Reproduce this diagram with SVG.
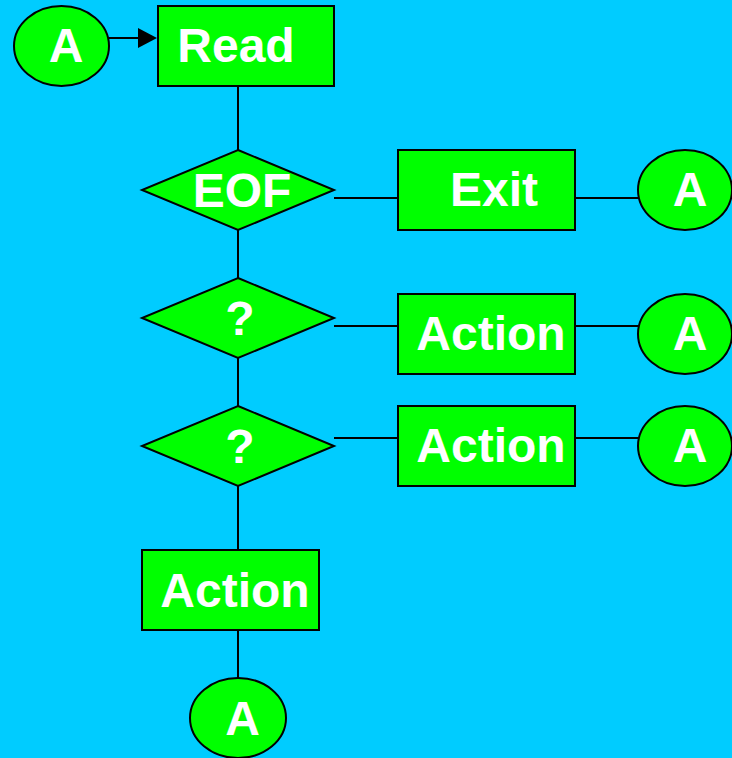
<svg xmlns="http://www.w3.org/2000/svg" width="732" height="758" viewBox="0 0 732 758">
<defs>
<style>
.s{fill:#00FF00;stroke:#000;stroke-width:2}
.t{fill:#fff;font-family:"Liberation Sans",Arial,sans-serif;font-weight:bold;font-size:48px;text-anchor:middle}
.c{stroke:#000;stroke-width:2;fill:none}
</style>
</defs>
<rect width="732" height="758" fill="#00CCFF"/>
<g id="connectors">
<line class="c" x1="109" y1="38" x2="138" y2="38"/>
<path d="M138,28 L157,38 L138,48 Z" fill="#000"/>
<line class="c" x1="238" y1="86" x2="238" y2="150"/>
<line class="c" x1="238" y1="230" x2="238" y2="278"/>
<line class="c" x1="238" y1="358" x2="238" y2="406"/>
<line class="c" x1="238" y1="486" x2="238" y2="550"/>
<line class="c" x1="238" y1="630" x2="238" y2="678"/>
<line class="c" x1="334" y1="198" x2="398" y2="198"/>
<line class="c" x1="575" y1="198" x2="638" y2="198"/>
<line class="c" x1="334" y1="326" x2="398" y2="326"/>
<line class="c" x1="575" y1="326" x2="638" y2="326"/>
<line class="c" x1="334" y1="438" x2="398" y2="438"/>
<line class="c" x1="575" y1="438" x2="638" y2="438"/>
</g>
<g id="startA"><ellipse class="s" cx="61.5" cy="46" rx="47.5" ry="40"/><text class="t" x="66" y="62">A</text></g>
<g id="read"><rect class="s" x="158" y="6" width="176" height="80"/><text class="t" x="236" y="62">Read</text></g>
<g id="eof"><polygon class="s" points="238,150 334,190 238,230 142,190"/><text class="t" x="242" y="207">EOF</text></g>
<g id="exit"><rect class="s" x="398" y="150" width="177" height="80"/><text class="t" x="494" y="206">Exit</text></g>
<g id="a1"><ellipse class="s" cx="685" cy="190" rx="47" ry="40"/><text class="t" x="690" y="206">A</text></g>
<g id="q1"><polygon class="s" points="238,278 334,318 238,358 142,318"/><text class="t" x="240" y="335">?</text></g>
<g id="action1"><rect class="s" x="398" y="294" width="177" height="80"/><text class="t" x="491" y="350">Action</text></g>
<g id="a2"><ellipse class="s" cx="685" cy="334" rx="47" ry="40"/><text class="t" x="690" y="350">A</text></g>
<g id="q2"><polygon class="s" points="238,406 334,446 238,486 142,446"/><text class="t" x="240" y="463">?</text></g>
<g id="action2"><rect class="s" x="398" y="406" width="177" height="80"/><text class="t" x="491" y="462">Action</text></g>
<g id="a3"><ellipse class="s" cx="685" cy="446" rx="47" ry="40"/><text class="t" x="690" y="462">A</text></g>
<g id="action3"><rect class="s" x="142" y="550" width="177" height="80"/><text class="t" x="235" y="607">Action</text></g>
<g id="a4"><ellipse class="s" cx="238" cy="718" rx="48" ry="40"/><text class="t" x="242.5" y="735">A</text></g>
</svg>
